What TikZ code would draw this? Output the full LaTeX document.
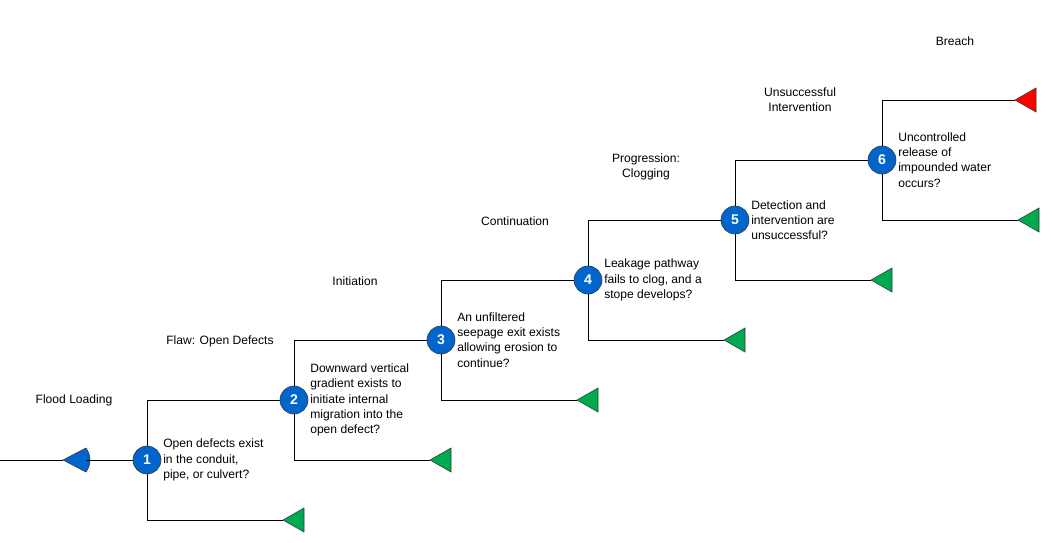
\documentclass[tikz,border=0pt]{standalone}
\usepackage{fontspec}
\setmainfont{Liberation Sans}
\usetikzlibrary{calc}
\definecolor{nodeblue}{RGB}{0,102,204}
\definecolor{endgreen}{RGB}{0,170,80}
\definecolor{endred}{RGB}{255,0,0}
\tikzset{
  event/.style={circle, draw=black!80, fill=nodeblue, text=white, font=\bfseries\fontsize{10}{12}\selectfont, minimum size=0.7cm, inner sep=0pt},
  question/.style={anchor=west, align=left, font=\fontsize{8.6}{10.8}\selectfont, inner sep=0pt},
  stage/.style={align=center, font=\fontsize{8.6}{10.8}\selectfont},
  branch/.style={draw=black, line width=0.5pt},
  term/.style={draw=black!80, line width=0.4pt}
}
\newcommand{\termtri}[2]{% tip coordinate, colour
  \fill[#2, term] (#1) -- ++(21,-12) -- ++(0,24) -- cycle;}
\begin{document}
\begin{tikzpicture}[x=0.025cm,y=-0.025cm]
  \useasboundingbox (0,0) rectangle (1052,542);
  % chance node of the loading
  \coordinate (start) at (0,460);
  \coordinate (load) at (63,460);
  \fill[nodeblue, term] (load) -- (86,448) to[bend left=35] (86,472) -- cycle;
  \draw[branch] (start) -- (load);
  % event nodes
  \foreach \i/\x/\y/\txt in {
    1/147/460/{Open defects exist\\in the conduit,\\pipe,  or culvert?},
    2/294/400/{Downward vertical\\gradient exists to\\initiate internal\\migration into the\\open defect?},
    3/441/340/{An unfiltered\\seepage exit exists\\allowing erosion to\\continue?},
    4/588/280/{Leakage pathway\\fails to clog, and a\\stope develops?},
    5/735/220/{Detection and\\intervention are\\unsuccessful?},
    6/882/160/{Uncontrolled\\release of\\impounded water\\occurs?}} {
    \node[event] (e\i) at (\x,\y) {\i};
    \node[question] (q\i) at (\x+16,\y) {\txt};
    \coordinate (no\i) at (\x+136,\y+60);
    \draw[branch] (e\i) |- (no\i);
    \termtri{no\i}{endgreen}
  }
  \draw[branch] (86,460) -- (e1);
  \foreach \i/\j in {1/2,2/3,3/4,4/5,5/6}
    \draw[branch] (e\i) |- (e\j);
  \coordinate (breach) at (1015,100);
  \draw[branch] (e6) |- (breach);
  \termtri{breach}{endred}
  % stage labels
  \node[stage] (s1) at (74,400) {Flood Loading};
  \node[stage] (s2) at (220,341) {Flaw:  Open Defects};
  \node[stage] (s3) at (355,281) {Initiation};
  \node[stage] (s4) at (515,221) {Continuation};
  \node[stage] (s5) at (646,167) {Progression:\\Clogging};
  \node[stage] (s6) at (800,100) {Unsuccessful\\Intervention};
  \node[stage] (s7) at (955,41) {Breach};
\end{tikzpicture}
\end{document}
